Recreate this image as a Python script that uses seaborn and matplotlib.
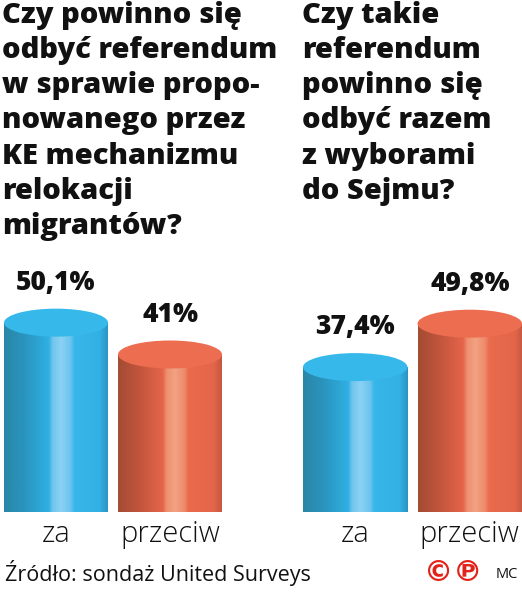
import numpy as np
import seaborn as sns
import matplotlib.pyplot as plt
from matplotlib.colors import LinearSegmentedColormap
from matplotlib.patches import Ellipse, Polygon

# data
categories = ["za", "przeciw"]
left_values = [50.1, 41.0]
right_values = [37.4, 49.8]
left_labels = ["50,1%", "41%"]
right_labels = ["37,4%", "49,8%"]
left_title = "Czy powinno się\nodbyć referendum\nw sprawie propo-\nnowanego przez\nKE mechanizmu\nrelokacji\nmigrantów?"
right_title = "Czy takie\nreferendum\npowinno się\nodbyć razem\nz wyborami\ndo Sejmu?"
source = "Źródło: sondaż United Surveys"

# colour stops across the cylinder (left edge -> right edge)
blue_stops = [(0.0, "#2a86a6"), (0.2, "#2a95bf"), (0.43, "#2fb0e2"), (0.47, "#72c6ee"),
              (0.55, "#8ad2f4"), (0.64, "#6cc4ee"), (0.68, "#37b6ea"), (0.92, "#33b0e4"), (1.0, "#2a94c4")]
red_stops = [(0.0, "#a44c34"), (0.2, "#c0553c"), (0.43, "#e5644a"), (0.47, "#ee9070"),
             (0.55, "#f2a283"), (0.64, "#ee8a6a"), (0.68, "#e96a4d"), (0.92, "#e4664a"), (1.0, "#c45840")]
top_colors = ["#36b8ea", "#ec6d4f"]
gradients = [LinearSegmentedColormap.from_list("b", blue_stops),
             LinearSegmentedColormap.from_list("r", red_stops)]

sns.set_theme(style="white")
plt.rcParams['font.family'] = ['Open Sans', 'DejaVu Sans']

W, H = 522, 592
fig = plt.figure(figsize=(W / 100, H / 100), dpi=100)

PX_PER_UNIT = 3.5
BASE = 498
TOP = 250
BAR_W = 0.912
ELL = 4.0  # half height of ellipse in data units


def draw_panel(left_px, width_px, values, labels):
    ax = fig.add_axes([left_px / W, (H - BASE) / H, width_px / W, (BASE - TOP) / H])
    sns.barplot(x=categories, y=values, hue=categories, palette=top_colors,
                width=BAR_W, legend=False, ax=ax)
    ax.set_xlim(-BAR_W / 2, 1 + BAR_W / 2)
    ax.set_ylim(0, (BASE - TOP) / PX_PER_UNIT)
    ax.axis("off")
    grad = np.linspace(0, 1, 256).reshape(1, -1)
    for i, bar in enumerate(ax.patches[:2]):
        x0 = bar.get_x()
        w = bar.get_width()
        h = bar.get_height()
        xc = x0 + w / 2
        bar.set_visible(False)
        xs = np.linspace(x0, x0 + w, 80)
        arc = -ELL * np.sqrt(np.clip(1 - ((xs - xc) / (w / 2)) ** 2, 0, 1))
        pts = [(x0, h)] + list(zip(xs, arc)) + [(x0 + w, h)]
        clip = Polygon(pts, closed=True, transform=ax.transData)
        im = ax.imshow(grad, cmap=gradients[i], aspect="auto",
                       extent=(x0, x0 + w, -ELL, h), zorder=2, clip_on=False)
        im.set_clip_path(clip)
        ax.add_patch(Ellipse((xc, h), w, 2 * ELL, facecolor=top_colors[i],
                             edgecolor="none", zorder=3, clip_on=False))
        ax.text(xc, h + 11.4, labels[i], ha="center", va="center", fontsize=19,
                fontweight="heavy", color="#111111", clip_on=False)
        ax.text(xc, -10.4, categories[i], ha="center", va="center", fontsize=21,
                fontweight="light", color="#111111", clip_on=False)
    return ax


draw_panel(4, 218, left_values, left_labels)
draw_panel(303, 219, right_values, right_labels)

fig.text(2 / W, 1 - 1 / H, left_title, ha="left", va="top", fontsize=21,
         fontweight="heavy", color="#111111", linespacing=1.28)
fig.text(302 / W, 1 - 1 / H, right_title, ha="left", va="top", fontsize=21,
         fontweight="heavy", color="#111111", linespacing=1.28)

fig.text(5 / W, 1 - 573 / H, source, ha="left", va="center", fontsize=15.5, color="#111111")
fig.text(453 / W, 1 - 573 / H, "©℗", ha="center", va="center", fontsize=21,
         fontweight="bold", color="#e2231a", family=['DejaVu Sans'])
fig.text(507 / W, 1 - 574 / H, "MC", ha="center", va="center", fontsize=10.5, color="#111111")

fig.savefig("out.png", dpi=100)
